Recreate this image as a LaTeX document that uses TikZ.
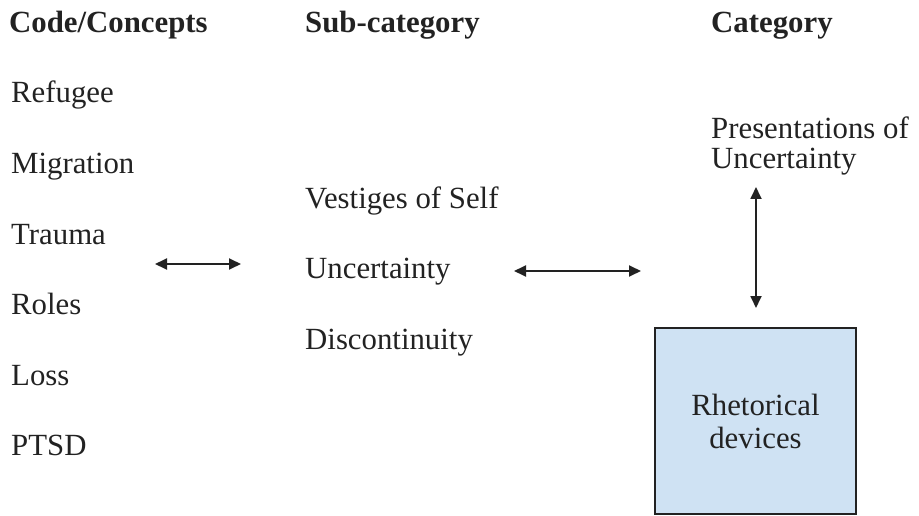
\documentclass[tikz,border=0pt]{standalone}
\usepackage{fontspec}
\setmainfont{Liberation Serif}
\usepackage{tikz}
\usepackage{xcolor}
\usetikzlibrary{arrows.meta,positioning}

\definecolor{boxblue}{HTML}{CFE2F3}
\definecolor{inkgray}{HTML}{222222}

\begin{document}
\begin{tikzpicture}[x=1pt,y=-1pt,node distance=70.5pt,
  every node/.style={inner sep=0pt,text=inkgray,font=\fontsize{30.8}{30}\selectfont},
  head/.style={anchor=base west,font=\fontsize{30.8}{30}\selectfont\bfseries},
  term/.style={text height=20pt,text depth=7pt},
  linkarrow/.style={{Triangle[length=12pt,width=11pt]}-{Triangle[length=12pt,width=11pt]},line width=1.8pt,draw=inkgray,fill=inkgray}]
 \useasboundingbox (0,0) rectangle (919,516);

 % column headings
 \node[head] (code) at (9,33) {Code/Concepts};
 \node[head] (sub) at (305,33) {Sub-category};
 \node[head] (cat) at (711,33) {Category};

 % codes
 \node[term,anchor=base west] (refugee) at (11,103) {Refugee};
 \node[term] (migration) [below=of refugee.west,anchor=west] {Migration};
 \node[term] (trauma) [below=of migration.west,anchor=west] {Trauma};
 \node[term] (roles) [below=of trauma.west,anchor=west] {Roles};
 \node[term] (loss) [below=of roles.west,anchor=west] {Loss};
 \node[term] (ptsd) [below=of loss.west,anchor=west] {PTSD};

 % sub-categories
 \node[term,anchor=base west] (vestiges) at (305,208) {Vestiges of Self};
 \node[term] (uncert) [below=of vestiges.west,anchor=west] {Uncertainty};
 \node[term] (discont) [below=of uncert.west,anchor=west] {Discontinuity};

 % categories
 \node[align=left,anchor=north west] (present) at (711,117) {Presentations of\\Uncertainty};
 \node[draw=inkgray,line width=1.5pt,fill=boxblue,align=center,
       font=\fontsize{30.8}{33}\selectfont,
       minimum width=201pt,minimum height=186pt] (rhet) at (755.5,421) {Rhetorical\\devices};

 % arrows
 \coordinate (l1) at (155,264);
 \coordinate (l2) at (241,264);
 \coordinate (m1) at (514,271);
 \coordinate (m2) at (641,271);
 \coordinate (v1) at (756,187);
 \coordinate (v2) at (756,308);
 \draw[linkarrow] (l1) -- (l2);
 \draw[linkarrow] (m1) -- (m2);
 \draw[linkarrow] (v1) -- (v2);
\end{tikzpicture}
\end{document}
